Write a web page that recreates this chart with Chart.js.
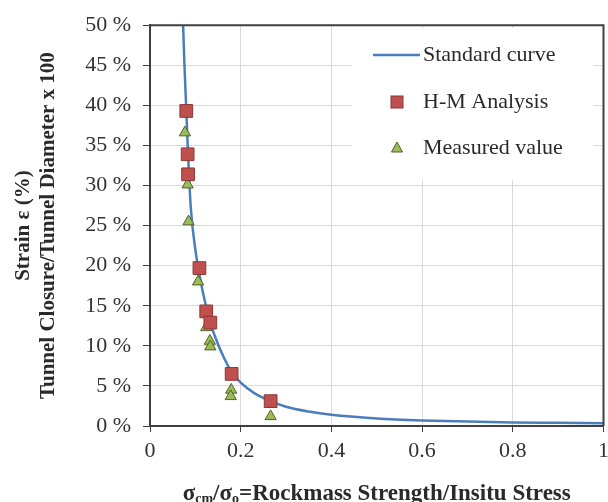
<!DOCTYPE html>
<html>
<head>
<meta charset="utf-8">
<script src="https://cdn.jsdelivr.net/npm/chart.js@4/dist/chart.umd.min.js"></script>
<style>
  html, body { margin: 0; padding: 0; background: #fff; overflow: hidden; }
  #wrap { width: 608px; height: 502px; overflow: hidden; }
</style>
</head>
<body>
<div id="wrap"><canvas id="strainChart" width="615" height="502"></canvas></div>
<script>
// standard curve
const curveX = [0.073, 0.076, 0.08, 0.084, 0.09, 0.1, 0.11, 0.12, 0.133, 0.15, 0.165, 0.18, 0.2, 0.23, 0.266, 0.3, 0.35, 0.4, 0.5, 0.6, 0.7, 0.8, 0.9, 1.0];
const curveY = [50, 45, 39.5, 33.8, 27.2, 22, 18.6, 15.8, 12.9, 10.2, 8.3, 6.7, 5.4, 4.1, 3.1, 2.4, 1.8, 1.4, 0.95, 0.7, 0.55, 0.45, 0.4, 0.35];

// H-M analysis points
const hmX = [0.080, 0.083, 0.084, 0.109, 0.124, 0.133, 0.180, 0.266];
const hmY = [39.3, 33.9, 31.4, 19.7, 14.3, 12.9, 6.5, 3.1];

// measured values
const measX = [0.077, 0.083, 0.085, 0.106, 0.124, 0.132, 0.133, 0.179, 0.178, 0.266];
const measY = [36.6, 30.1, 25.5, 18.0, 12.3, 10.6, 9.9, 4.5, 3.7, 1.2];

const xTicks = [0, 0.2, 0.4, 0.6, 0.8, 1];
const legendLabels = ["Standard curve", "H-M Analysis", "Measured value"];

const FONT = "'Liberation Serif', 'DejaVu Serif', serif";
const lineBlue = "#4a7ebb";
const hmFill = "#c0504d", hmEdge = "#8c3836";
const measFill = "#9bbb59", measEdge = "#4f6228";

function pts(xs, ys) {
  return xs.map((x, i) => ({ x: x, y: ys[i] }));
}

const extras = {
  id: "extras",
  afterDatasetsDraw(chart) {
    const ctx = chart.ctx;
    const a = chart.chartArea;
    ctx.save();
    // legend box
    ctx.fillStyle = "#fff";
    ctx.fillRect(352, a.top + 3, a.right - 10 - 352, 152);
    ctx.font = "22px " + FONT;
    ctx.textBaseline = "middle";
    ctx.textAlign = "left";
    const rows = [55, 102, 148];
    // line sample
    ctx.strokeStyle = lineBlue;
    ctx.lineWidth = 2.5;
    ctx.beginPath();
    ctx.moveTo(373, rows[0]);
    ctx.lineTo(420, rows[0]);
    ctx.stroke();
    // square sample
    ctx.fillStyle = hmFill;
    ctx.strokeStyle = hmEdge;
    ctx.lineWidth = 1;
    ctx.fillRect(391, rows[1] - 6, 12, 12);
    ctx.strokeRect(391, rows[1] - 6, 12, 12);
    // triangle sample
    ctx.fillStyle = measFill;
    ctx.strokeStyle = measEdge;
    ctx.beginPath();
    ctx.moveTo(397, rows[2] - 6);
    ctx.lineTo(402.5, rows[2] + 4);
    ctx.lineTo(391.5, rows[2] + 4);
    ctx.closePath();
    ctx.fill();
    ctx.stroke();
    ctx.fillStyle = "#2a2a2a";
    legendLabels.forEach((t, i) => ctx.fillText(t, 423, rows[i]));
    ctx.restore();
  },
  afterDraw(chart) {
    const ctx = chart.ctx;
    const a = chart.chartArea;
    ctx.save();
    // top and right frame
    ctx.strokeStyle = "#404040";
    ctx.lineWidth = 2;
    ctx.beginPath();
    ctx.moveTo(a.left, a.top);
    ctx.lineTo(a.right, a.top);
    ctx.lineTo(a.right, a.bottom);
    ctx.stroke();

    // x axis title with subscripts
    const parts = [
      { t: "\u03c3", sub: false }, { t: "cm", sub: true },
      { t: "/\u03c3", sub: false }, { t: "o", sub: true },
      { t: "=Rockmass Strength/Insitu Stress", sub: false }
    ];
    const big = "bold 23px " + FONT, small = "bold 14px " + FONT;
    let w = 0;
    parts.forEach(p => { ctx.font = p.sub ? small : big; p.w = ctx.measureText(p.t).width; w += p.w; });
    let x = (a.left + a.right) / 2 - w / 2;
    const y = 500;
    ctx.fillStyle = "#2a2a2a";
    ctx.textBaseline = "alphabetic";
    ctx.textAlign = "left";
    parts.forEach(p => {
      ctx.font = p.sub ? small : big;
      ctx.fillText(p.t, x, p.sub ? y + 3 : y);
      x += p.w;
    });
    ctx.restore();
  }
};

new Chart(document.getElementById("strainChart").getContext("2d"), {
  type: "scatter",
  data: {
    datasets: [
      {
        label: legendLabels[0],
        data: pts(curveX, curveY),
        showLine: true,
        borderColor: lineBlue,
        borderWidth: 2.5,
        pointRadius: 0,
        cubicInterpolationMode: "monotone",
        order: 3
      },
      {
        label: legendLabels[2],
        data: pts(measX, measY),
        pointStyle: "triangle",
        pointRadius: 6.5,
        backgroundColor: measFill,
        borderColor: measEdge,
        borderWidth: 1,
        order: 2
      },
      {
        label: legendLabels[1],
        data: pts(hmX, hmY),
        pointStyle: "rect",
        pointRadius: 9,
        backgroundColor: hmFill,
        borderColor: hmEdge,
        borderWidth: 1,
        order: 1
      }
    ]
  },
  options: {
    responsive: false,
    animation: false,
    layout: { padding: { top: 15, right: 0, bottom: 0, left: 0 } },
    plugins: { legend: { display: false }, tooltip: { enabled: false } },
    scales: {
      x: {
        type: "linear",
        min: 0,
        max: 1,
        afterBuildTicks: (s) => { s.ticks = xTicks.map(v => ({ value: v })); },
        afterFit: (s) => { s.height = 76; },
        ticks: {
          font: { family: FONT, size: 22 },
          color: "#333",
          padding: 6,
          maxRotation: 0,
          callback: (v) => String(Math.round(v * 10) / 10)
        },
        grid: { color: "#d9d9d9", tickColor: "#404040", tickLength: 6 },
        border: { color: "#404040", width: 2 }
      },
      y: {
        min: 0,
        max: 50,
        afterFit: (s) => { s.width = 150; },
        ticks: {
          stepSize: 5,
          font: { family: FONT, size: 22 },
          color: "#333",
          padding: 12,
          callback: (v) => v + " %"
        },
        grid: { color: "#d9d9d9", tickColor: "#404040", tickLength: 7 },
        border: { color: "#404040", width: 2 },
        title: {
          display: true,
          text: ["Strain \u03b5 (%)", "Tunnel Closure/Tunnel Diameter x 100"],
          font: { family: FONT, size: 21, weight: "bold", lineHeight: 1.15 },
          color: "#2a2a2a",
          padding: { top: 12, bottom: 0 }
        }
      }
    }
  },
  plugins: [extras]
});
</script>
</body>
</html>
